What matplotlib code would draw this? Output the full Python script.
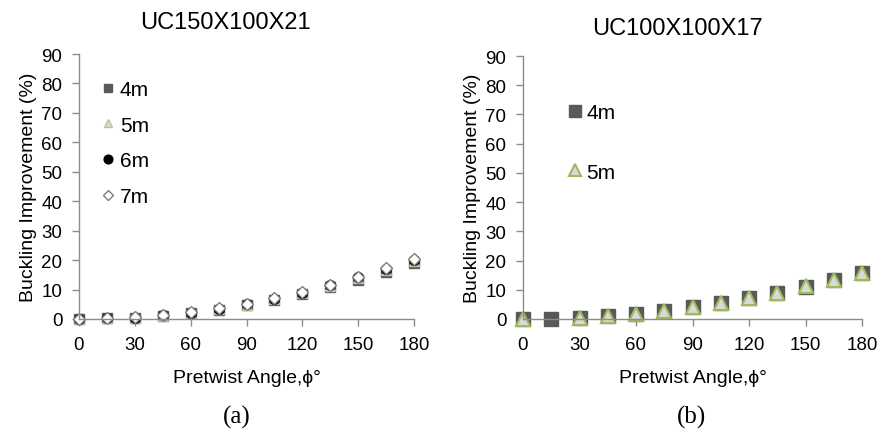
import numpy as np
import matplotlib
matplotlib.use('Agg')
import matplotlib.pyplot as plt

plt.rcParams['font.family'] = ['Liberation Sans', 'DejaVu Sans']

# pretwist angles (deg)
angle = [0, 15, 30, 45, 60, 75, 90, 105, 120, 135, 150, 165, 180]

# (a) UC150X100X21
a_4m = [0, 0.2, 0.4, 1.0, 2.0, 3.2, 4.7, 6.5, 8.5, 10.7, 13.3, 16.0, 18.9]
a_5m = [0, 0.2, 0.5, 1.1, 2.1, 3.4, 4.9, 6.7, 8.8, 11.1, 13.8, 16.6, 19.6]
a_6m = [0, 0.3, 0.5, 1.2, 2.2, 3.5, 5.1, 6.9, 9.0, 11.4, 14.1, 17.0, 20.1]
a_7m = [0, 0.3, 0.6, 1.3, 2.3, 3.6, 5.2, 7.0, 9.2, 11.5, 14.3, 17.2, 20.4]

# (b) UC100X100X17 (no 5m result at 15 deg)
b_angle_5m = [0, 30, 45, 60, 75, 90, 105, 120, 135, 150, 165, 180]
b_4m = [0, 0, 0.4, 1.0, 1.7, 2.6, 4.0, 5.5, 7.2, 8.9, 11.1, 13.4, 15.6]
b_5m = [0, 0.4, 1.1, 1.7, 2.6, 4.0, 5.5, 7.2, 8.9, 11.2, 13.5, 15.7]

W, H = 882, 439
fig = plt.figure(figsize=(W / 100, H / 100), dpi=100)

def make_axes(x0, x1, ytop, ybot):
    ax = fig.add_axes([x0 / W, 1 - ybot / H, (x1 - x0) / W, (ybot - ytop) / H])
    ax.set_xlim(0, 180)
    ax.set_ylim(0, 90)
    ax.set_xticks(range(0, 181, 30))
    ax.set_yticks(range(0, 91, 10))
    for s in ['top', 'right']:
        ax.spines[s].set_visible(False)
    for s in ['left', 'bottom']:
        ax.spines[s].set_color('#8c8c8c')
        ax.spines[s].set_linewidth(1.0)
    ax.tick_params(axis='both', colors='#8c8c8c', labelcolor='black',
                   labelsize=13.5, length=5, width=1.0)
    ax.tick_params(axis='x', pad=7)
    ax.tick_params(axis='y', pad=7)
    ax.set_xlabel('Pretwist Angle,\u03d5\u00b0', fontsize=14, labelpad=12)
    ax.set_ylabel('Buckling Improvement (%)', fontsize=14, labelpad=3)
    return ax

# ---- panel (a)
ax1 = make_axes(79, 414, 55, 320)
ax1.plot(angle, a_4m, 's', ms=7, color='#595959', label='4m', clip_on=False)
ax1.plot(angle, a_5m, '^', ms=7, mfc='#ddd9c3', mec='#c4bd97', label='5m', clip_on=False)
ax1.plot(angle, a_6m, 'o', ms=7, color='black', label='6m', clip_on=False)
ax1.plot(angle, a_7m, 'D', ms=6, mfc='white', mec='#7f7f7f', mew=1.0, label='7m', clip_on=False)
ax1.set_title('UC150X100X21', fontsize=17, pad=19, x=0.438)
ax1.legend(loc='upper left', bbox_to_anchor=(0.041, 0.941), frameon=False, fontsize=15,
           handlelength=0.5, handletextpad=0.3, labelspacing=0.8, borderpad=0,
           markerscale=0.9)

# ---- panel (b)
ax2 = make_axes(523, 862, 57, 320)
ax2.plot(angle, b_4m, 's', ms=10, color='#595959', label='4m', clip_on=False)
ax2.plot(b_angle_5m, b_5m, '^', ms=10, mfc='#d9d9d9', mec='#9bbb59', mew=1.5, label='5m', clip_on=False)
ax2.set_title('UC100X100X17', fontsize=17, pad=16, x=0.457)
ax2.legend(loc='upper left', bbox_to_anchor=(0.106, 0.861), frameon=False, fontsize=15,
           handlelength=0.5, handletextpad=0.3, labelspacing=1.95, borderpad=0,
           markerscale=0.85)

fig.text(237 / W, 1 - 417 / H, '(a)', family='Liberation Serif', fontsize=18,
         ha='center', va='center')
fig.text(691 / W, 1 - 417 / H, '(b)', family='Liberation Serif', fontsize=18,
         ha='center', va='center')

fig.savefig('out.png', dpi=100)
